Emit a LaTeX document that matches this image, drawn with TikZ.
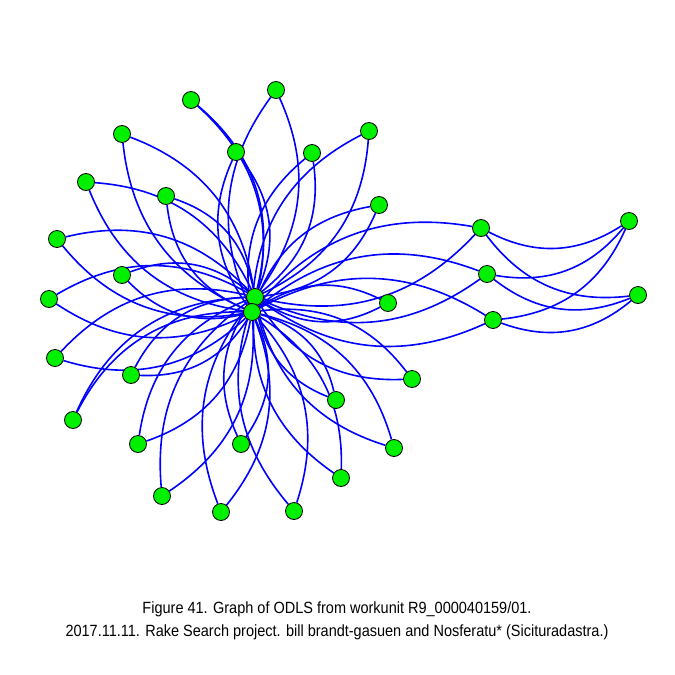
\documentclass[tikz,border=0pt]{standalone}
\usepackage{fontspec}
\setmainfont{Liberation Sans}
\pgfdeclarelayer{bg}
\pgfsetlayers{bg,main}
\definecolor{ngreen}{RGB}{0,240,0}
\definecolor{eblue}{RGB}{0,0,255}
\tikzset{
  vtx/.style={circle,fill=ngreen,draw=black,line width=0.8pt,minimum size=17pt,inner sep=0pt},
  edg/.style={draw=eblue,line width=1.6pt},
  captext/.style={font=\fontsize{14.5}{17}\selectfont,align=center,inner sep=0pt,yscale=1.12}
}
\begin{document}
\begin{tikzpicture}[x=1pt,y=-1pt]
\useasboundingbox (0,0) rectangle (675,675);
% hubs
\node[vtx] (ha) at (255,297) {};
\node[vtx] (hb) at (252,312) {};
% outer nodes
\node[vtx] (n1) at (191,100) {};
\node[vtx] (n2) at (276,90) {};
\node[vtx] (n3) at (122,134) {};
\node[vtx] (n4) at (236,152) {};
\node[vtx] (n5) at (312,153) {};
\node[vtx] (n6) at (369,131) {};
\node[vtx] (n7) at (86,182) {};
\node[vtx] (n8) at (166,196) {};
\node[vtx] (n9) at (379,205) {};
\node[vtx] (n10) at (57,239) {};
\node[vtx] (n11) at (122,275) {};
\node[vtx] (n12) at (49,299) {};
\node[vtx] (n13) at (388,303) {};
\node[vtx] (n14) at (55,358) {};
\node[vtx] (n15) at (131,375) {};
\node[vtx] (n16) at (73,420) {};
\node[vtx] (n17) at (412,379) {};
\node[vtx] (n18) at (336,400) {};
\node[vtx] (n19) at (138,444) {};
\node[vtx] (n20) at (241,444) {};
\node[vtx] (n21) at (394,448) {};
\node[vtx] (n22) at (341,478) {};
\node[vtx] (n23) at (162,496) {};
\node[vtx] (n24) at (221,512) {};
\node[vtx] (n25) at (294,511) {};
\node[vtx] (r1) at (481,228) {};
\node[vtx] (r2) at (487,274) {};
\node[vtx] (r3) at (493,320) {};
\node[vtx] (f1) at (629,221) {};
\node[vtx] (f2) at (638,295) {};
\begin{pgfonlayer}{bg}
\foreach \n in {n2,n3,n4,n5,n6,n7,n8,n9,n10,n11,n12,n13,n14,n15,n17,n18,n19,n20,n21,n22,n23,n24,n25,r1,r2,r3}{
  \draw[edg] (\n) to[bend left=30] (ha);
  \draw[edg] (\n) to[bend right=30] (hb);
}
\foreach \n in {n1,n16}{
  \draw[edg] (\n) to[bend left=32] (ha);
  \draw[edg] (\n) to[bend left=32] (hb);
}
\foreach \r in {r1,r2,r3}{
  \draw[edg] (\r) to[bend right=30] (f1);
  \draw[edg] (\r) to[bend right=30] (f2);
}
\end{pgfonlayer}
\node[captext] (t1) at (337,609) {Figure 41. Graph of ODLS from workunit R9\_000040159/01.};
\node[captext] (t2) at (337,632) {2017.11.11. Rake Search project. bill brandt-gasuen and Nosferatu* (Sicituradastra.)};
\end{tikzpicture}
\end{document}
